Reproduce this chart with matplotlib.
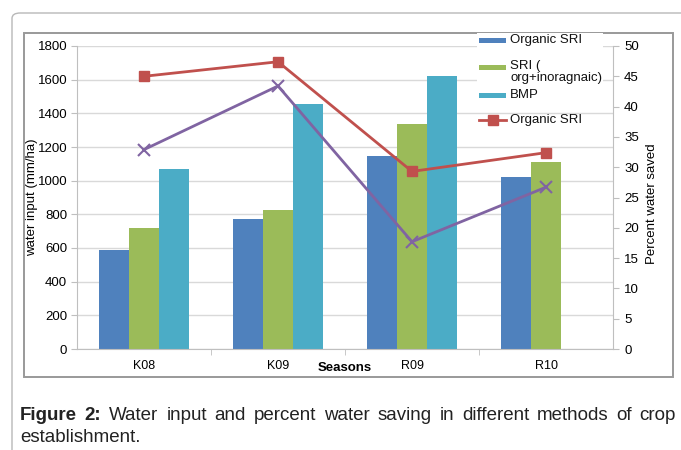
#!/usr/bin/env python3
import numpy as np
import matplotlib
matplotlib.use("Agg")
import matplotlib.pyplot as plt
from matplotlib.patches import Rectangle, FancyBboxPatch
from matplotlib.lines import Line2D

# values
seasons = ["K08", "K09", "R09", "R10"]
organic_sri = [588, 772, 1147, 1022]
sri_mixed = [719, 826, 1337, 1111]
bmp = [1069, 1455, 1622, np.nan]
pct_organic = [45.0, 47.4, 29.3, 32.4]
pct_mixed = [32.9, 43.4, 17.7, 26.7]
bar_labels = ["Organic SRI", "SRI (\norg+inoragnaic)", "BMP"]
line_label = "Organic SRI"

W, H = 681, 450
plt.rcParams['font.family'] = ['Liberation Sans', 'DejaVu Sans']

BLUE, GREEN, CYAN = "#4F81BD", "#9BBB59", "#4BACC6"
RED, PURPLE = "#C0504D", "#8064A2"


def fx(px):
    return px / W


def fy(py):
    return 1 - py / H


def draw_legend(fig):
    # Excel style legend: handle lines up with the first line of each label
    fig.add_artist(Rectangle((fx(477), fy(104)), fx(126), 71 / H,
                             transform=fig.transFigure, facecolor="white",
                             edgecolor="none", zorder=5))
    rows = [40, 67, 95]
    for yy, col, lab in zip(rows, [BLUE, GREEN, CYAN], bar_labels):
        fig.add_artist(Rectangle((fx(479), fy(yy + 2.5)), fx(27), 5 / H,
                                 transform=fig.transFigure, facecolor=col,
                                 edgecolor="none", zorder=6))
        fig.text(fx(510), fy(yy - 6.5), lab, fontsize=9.5, va="top", ha="left",
                 linespacing=0.95, zorder=6, color="#111111")
    fig.add_artist(Line2D([fx(479), fx(506)], [fy(120), fy(120)],
                          transform=fig.transFigure, color=RED, lw=2, zorder=6))
    fig.add_artist(Line2D([fx(492.5)], [fy(120)], transform=fig.transFigure,
                          color=RED, marker="s", ms=7, zorder=6))
    fig.text(fx(510), fy(113.5), line_label, fontsize=9.5, va="top", ha="left",
             zorder=6, color="#111111")


def main():
    fig = plt.figure(figsize=(W / 100, H / 100), dpi=100)

    # outer page box and inner chart frame
    fig.patches.append(FancyBboxPatch((fx(12), fy(470)), fx(700), 457 / H,
                                      boxstyle="round,pad=0,rounding_size=0.012",
                                      transform=fig.transFigure, fill=False,
                                      edgecolor="#b8b8b8", lw=1.0))
    fig.patches.append(Rectangle((fx(24), fy(377)), fx(649), 344 / H,
                                 transform=fig.transFigure, fill=False,
                                 edgecolor="#999999", lw=1.4))

    ax = fig.add_axes([fx(77), fy(349), fx(536), 303 / H])
    x = np.arange(len(seasons))
    w = 0.222
    ax.bar(x - w, organic_sri, w, color=BLUE, zorder=2)
    ax.bar(x, sri_mixed, w, color=GREEN, zorder=2)
    ax.bar(x + w, bmp, w, color=CYAN, zorder=2)

    ax.set_xlim(-0.5, 3.5)
    ax.set_ylim(0, 1800)
    ax.set_yticks(range(0, 1801, 200))
    ax.yaxis.grid(True, color="#d9d9d9", lw=1.0, zorder=0)
    ax.set_axisbelow(True)
    ax.set_xticks(x)
    ax.set_xticklabels(seasons)
    ax.set_xticks([0.5, 1.5, 2.5], minor=True)
    ax.tick_params(axis="x", which="major", length=0, pad=8, labelsize=9)
    ax.tick_params(axis="x", which="minor", length=4, color="#bfbfbf")
    ax.tick_params(axis="y", length=4, color="#bfbfbf", labelsize=9.5, pad=3)
    for s in ["top", "right"]:
        ax.spines[s].set_visible(False)
    for s in ["left", "bottom"]:
        ax.spines[s].set_color("#bfbfbf")
    ax.set_ylabel("water input (mm/ha)", fontsize=9.5)
    ax.yaxis.set_label_coords((38 - 77) / 536, 0.5)
    ax.set_xlabel("Seasons", fontsize=9.5, fontweight="bold")
    ax.xaxis.set_label_coords(0.5, -(368 - 349) / 303)
    ax.xaxis.label.set_va("center")

    ax2 = ax.twinx()
    ax2.plot(x, pct_organic, color=RED, lw=2, marker="s", ms=7, zorder=3)
    ax2.plot(x, pct_mixed, color=PURPLE, lw=2, marker="x", ms=8, mew=1.5, zorder=3)
    ax2.set_ylim(0, 50)
    ax2.set_yticks(range(0, 51, 5))
    ax2.tick_params(axis="y", length=4, color="#bfbfbf", labelsize=9.5, pad=4)
    for s in ["top", "left", "bottom"]:
        ax2.spines[s].set_visible(False)
    ax2.spines["right"].set_color("#bfbfbf")
    ax2.set_ylabel("Percent water saved", fontsize=9.5)
    ax2.yaxis.set_label_coords((646 - 77) / 536, 0.48)

    draw_legend(fig)

    # caption, first line justified
    fig.canvas.draw()
    r = fig.canvas.get_renderer()
    words = [("Figure", "bold"), ("2:", "bold")] + [
        (wd, "normal") for wd in
        "Water input and percent water saving in different methods of crop".split()]
    texts = [fig.text(0, fy(420), wd, fontsize=13.5, fontweight=wt, color="#222222")
             for wd, wt in words]
    widths = [t.get_window_extent(r).width for t in texts]
    left, right = 20, 676
    gap = (right - left - sum(widths)) / (len(texts) - 1)
    pos = left
    for t, wd in zip(texts, widths):
        t.set_x(fx(pos))
        pos += wd + gap
    fig.text(fx(20), fy(442), "establishment.", fontsize=13.5, color="#222222")

    fig.savefig("out.png", dpi=100)


if __name__ == "__main__":
    main()
